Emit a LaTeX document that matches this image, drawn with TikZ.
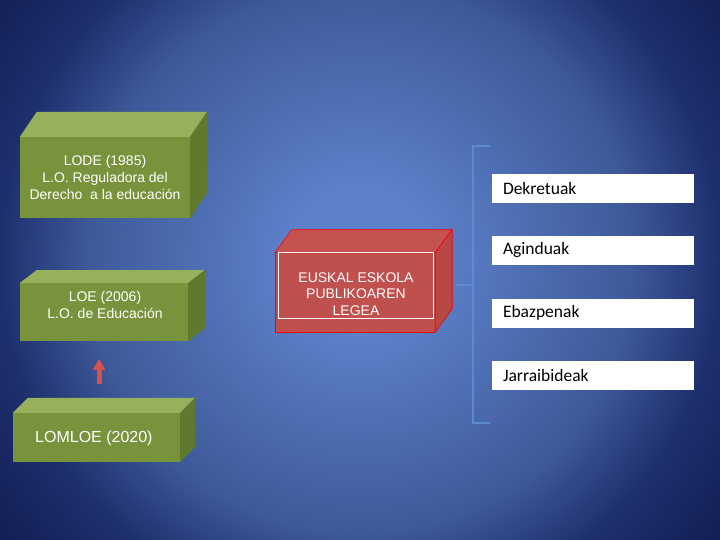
\documentclass[tikz,border=0pt]{standalone}
\usepackage{fontspec}
\setmainfont{Liberation Sans}
\newfontfamily\calibrifont{Carlito}
\usetikzlibrary{arrows.meta}

\definecolor{bgin}{HTML}{5C80C9}
\definecolor{bgmid}{HTML}{3F5A9A}
\definecolor{bgdark}{HTML}{1E2F6E}
\definecolor{bgout}{HTML}{131F55}
\definecolor{olivefront}{HTML}{77933C}
\definecolor{olivetop}{HTML}{97B05C}
\definecolor{oliveside}{HTML}{5F792E}
\definecolor{brickfront}{HTML}{C0504D}
\definecolor{bricktop}{HTML}{C4524F}
\definecolor{brickside}{HTML}{B64845}
\definecolor{arrowred}{HTML}{D4524F}
\definecolor{bracketblue}{HTML}{5A8AD2}

\pgfdeclareradialshading{slidebg}{\pgfpoint{0bp}{0bp}}{%
  color(0bp)=(bgin); color(4bp)=(bgin); color(15bp)=(bgmid); color(20bp)=(bgdark);
  color(25bp)=(bgout); color(50bp)=(bgout)}

\begin{document}
\begin{tikzpicture}[x=1pt,y=-1pt,
    greenfront/.style={fill=olivefront, text=white, inner sep=0pt, align=center,
      font=\fontsize{14}{17}\selectfont},
    greentop/.style={fill=olivetop},
    greenside/.style={fill=oliveside},
    redface/.style={draw=red, line width=0.6pt},
    listbox/.style={fill=white, minimum width=202pt, minimum height=29pt,
      text width=180pt, inner xsep=11pt, align=left,
      font=\calibrifont\fontsize{17.5}{20}\selectfont},
    redarrow/.style={draw=arrowred, line width=5pt,
      -{Triangle[width=12pt,length=11pt]}}]

  % Background of the slide
  \useasboundingbox (0,0) rectangle (720,540);
  \begin{scope}
    \clip (0,0) rectangle (720,540);
    \shade[shading=slidebg] (-90,-190) rectangle (810,710);
  \end{scope}

  % LODE box
  \node[greenfront, minimum width=170pt, minimum height=81pt] (lode) at (105,177.5)
    {LODE (1985)\\L.O. Reguladora del\\Derecho\ \ a la educación};
  \fill[greentop] (lode.north west) -- ++(17,-25) -- ++(170,0) -- (lode.north east) -- cycle;
  \fill[greenside] (lode.north east) -- ++(17,-25) -- ++(0,81) -- (lode.south east) -- cycle;

  % LOE box
  \node[greenfront, minimum width=168pt, minimum height=58pt, anchor=north] (loe) at (104,283) {};
  \node[greenfront, fill=none] (loetxt) at (105,305) {LOE (2006)\\L.O. de Educación};
  \fill[greentop] (loe.north west) -- ++(17,-13) -- ++(168,0) -- (loe.north east) -- cycle;
  \fill[greenside] (loe.north east) -- ++(17,-13) -- ++(0,58) -- (loe.south east) -- cycle;

  % Arrow between LOMLOE and LOE
  \coordinate (arrowfoot) at (99,384);
  \coordinate (arrowtip) at (99,359);
  \draw[redarrow] (arrowfoot) -- (arrowtip);

  % LOMLOE box
  \node[greenfront, minimum width=167pt, minimum height=49pt] (lomloe) at (96.5,437.5) {};
  \node[greenfront, fill=none, anchor=west, font=\fontsize{16}{18}\selectfont]
    (lomloetxt) at (35,438) {LOMLOE (2020)};
  \fill[greentop] (lomloe.north west) -- ++(15,-15) -- ++(167,0) -- (lomloe.north east) -- cycle;
  \fill[greenside] (lomloe.north east) -- ++(15,-15) -- ++(0,49) -- (lomloe.south east) -- cycle;

  % Red box with the law
  \node[fill=brickfront, minimum width=160pt, minimum height=79pt, inner sep=0pt] (legea) at (355,292.5) {};
  \fill[bricktop, redface] (legea.north west) -- ++(17,-23) -- ++(160,0) -- (legea.north east) -- cycle;
  \fill[brickside, redface] (legea.north east) -- ++(17,-23) -- ++(0,79) -- (legea.south east) -- cycle;
  \draw[red, line width=0.6pt] (legea.north west) -- (legea.south west) -- (legea.south east);
  \node[draw=white, line width=0.8pt, minimum width=155pt, minimum height=66pt, inner sep=0pt]
    (euskal) at (355.5,285) {};
  \node[text=white, align=center, inner sep=0pt, font=\fontsize{14}{16.5}\selectfont]
    (euskaltxt) at (356,294) {EUSKAL ESKOLA\\PUBLIKOAREN\\LEGEA};

  % Bracket
  \draw[bracketblue, line width=2pt] (490,146) -- (473,146) -- (473,423) -- (490,423);
  \draw[bracketblue, line width=2pt] (473,284.5) -- (456,284.5);

  % Regulation types
  \node[listbox] (dekretu) at (593,188.5) {Dekretuak};
  \node[listbox] (agindu) at (593,250) {Aginduak};
  \node[listbox] (ebazpen) at (593,313) {Ebazpenak};
  \node[listbox] (jarraibide) at (593,375) {Jarraibideak};
\end{tikzpicture}
\end{document}
